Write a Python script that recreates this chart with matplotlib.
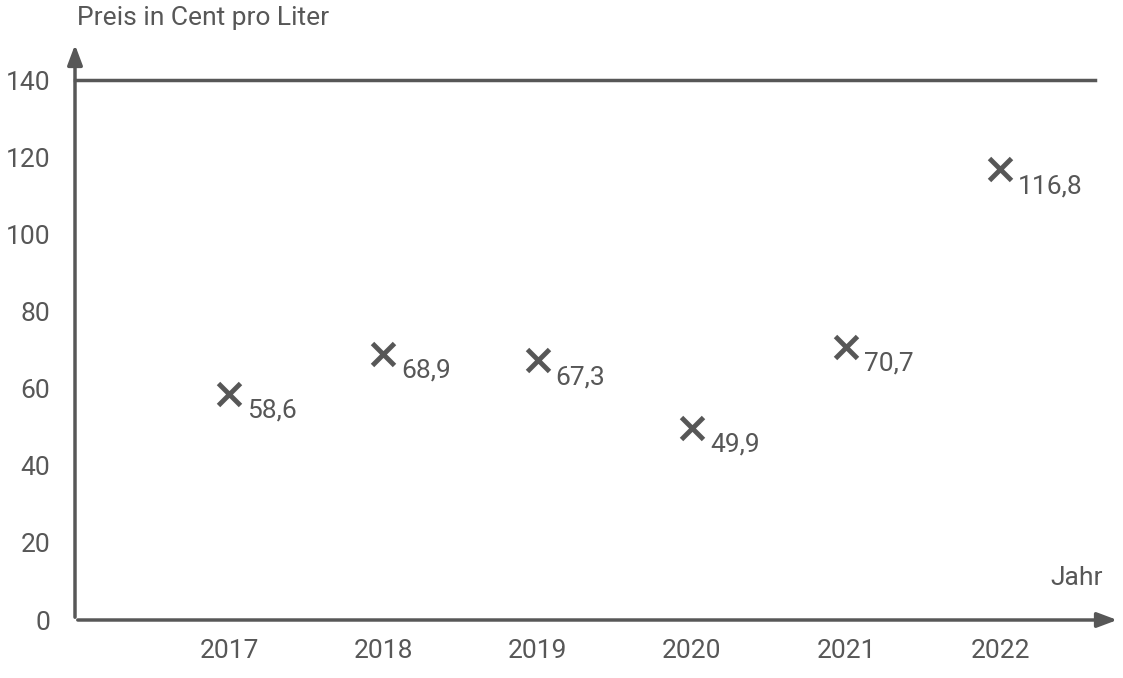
import matplotlib
matplotlib.use("Agg")
import matplotlib.pyplot as plt

years = [2017, 2018, 2019, 2020, 2021, 2022]
prices = [58.6, 68.9, 67.3, 49.9, 70.7, 116.8]
labels = ["58,6", "68,9", "67,3", "49,9", "70,7", "116,8"]
yticks = [0, 20, 40, 60, 80, 100, 120, 140]

C = "#575757"
plt.rcParams['font.family'] = ['Roboto', 'DejaVu Sans']
W, H = 1123, 678
fig = plt.figure(figsize=(W/100, H/100), dpi=100)
ax = fig.add_axes([75/W, 58/H, 1045/W, 578/H])
ax.set_xlim(2016, 2016 + 1045/154.2)
ax.set_ylim(0, 578/540*140)
for s in ax.spines.values():
    s.set_visible(False)
ax.set_facecolor("none")

ax.annotate("", xy=(1, 0), xytext=(0, 0), xycoords="axes fraction",
            arrowprops=dict(arrowstyle="-|>,head_length=1.2,head_width=0.45", color=C, lw=2.5))
ax.annotate("", xy=(0, 1), xytext=(0, 0), xycoords="axes fraction",
            arrowprops=dict(arrowstyle="-|>,head_length=1.2,head_width=0.45", color=C, lw=2.5))
ax.plot([2016, 2016 + 1020/154.2], [140, 140], color=C, lw=2.5, clip_on=False)

ax.plot(years, prices, 'x', color=C, ms=16, mew=3.5, clip_on=False)
for x, y, t in zip(years, prices, labels):
    ax.annotate(t, (x, y), xytext=(13, -12), textcoords="offset points",
                ha="left", va="center", fontsize=19, color=C)

ax.set_xticks(years)
ax.set_xticklabels([str(y) for y in years])
ax.set_yticks(yticks)
ax.tick_params(length=0, labelsize=19, colors=C, pad=14)
ax.tick_params(axis='y', pad=18)
fig.text(77/W, 1 - 18/H, "Preis in Cent pro Liter", fontsize=19, color=C, va="center", ha="left")
fig.text(1103/W, 1 - 578/H, "Jahr", fontsize=19, color=C, va="center", ha="right")
fig.savefig("out.png", dpi=100)
